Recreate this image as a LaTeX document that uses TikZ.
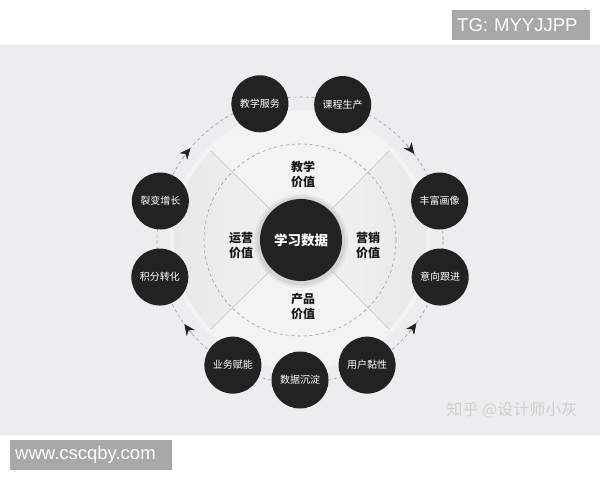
\documentclass[tikz,border=0pt]{standalone}
\usepackage{fontspec}
\setmainfont{Noto Sans CJK SC}
\newfontfamily\latinsans{Liberation Sans}
\usetikzlibrary{arrows.meta,calc}
\definecolor{panel}{HTML}{ECEDEE}
\definecolor{diskc}{HTML}{F3F3F3}
\definecolor{wedgec}{HTML}{E7E7E7}
\definecolor{nodefill}{HTML}{222222}
\definecolor{ringc}{HTML}{9A9A9A}
\definecolor{tagbox}{HTML}{A8A8A8}
\definecolor{edgec}{HTML}{C8C8C8}
\pgfdeclareradialshading{diskshade}{\pgfpoint{0bp}{0bp}}{color(0bp)=(diskc); color(40bp)=(diskc); color(50bp)=(panel)}
\begin{document}
\begin{tikzpicture}[x=1pt,y=1pt,
  ringnode/.style={circle, fill=nodefill, minimum size=57pt, inner sep=0pt, text=white, font=\fontsize{10}{12}\selectfont},
  hubnode/.style={circle, fill=nodefill, minimum size=82pt, inner sep=0pt, text=white, font=\bfseries\fontsize{13.5}{16}\selectfont},
  valuelabel/.style={align=center, text=black!90, font=\bfseries\fontsize{12}{15}\selectfont},
  dashring/.style={draw=ringc, line width=0.6pt, dash pattern=on 3pt off 3pt},
  flowtip/.style={draw=ringc, line width=0.6pt, -{Stealth[length=11pt,width=10pt,inset=3.5pt,color=nodefill]}},
  edgeline/.style={draw=edgec, line width=0.7pt},
  tag/.style={fill=tagbox, text=white, font=\latinsans\fontsize{18.5}{20}\selectfont, minimum height=30pt, inner ysep=0pt, inner xsep=5pt, align=left}
]
\useasboundingbox (0,0) rectangle (600,480);
\fill[white] (0,0) rectangle (600,480);
\fill[panel] (0,45) rectangle (600,435);

\coordinate (c) at (300,240);

% light disk with wedges
\shade[shading=diskshade] (c) circle[radius=130pt];
\shade[left color=wedgec, right color=diskc] (c) -- ++(135:126pt) arc[start angle=135, end angle=225, radius=126pt] -- cycle;
\shade[right color=wedgec, left color=diskc] (c) -- ++(45:126pt) arc[start angle=45, end angle=-45, radius=126pt] -- cycle;

% inner dashed circle
\draw[dashring] (c) circle[radius=96pt];

% outer dashed ring
\draw[dashring] (c) circle[radius=143pt];

% hub shadow
\fill[black, opacity=0.05] (301,239) circle[radius=47pt];
\fill[black, opacity=0.07] (301,239) circle[radius=44.5pt];
\node[hubnode] (hub) at (301,240) {学习数据};

% diagonal lines
\coordinate (d1) at ($(c)+(45:126pt)$);
\coordinate (d2) at ($(c)+(135:126pt)$);
\coordinate (d3) at ($(c)+(225:126pt)$);
\coordinate (d4) at ($(c)+(315:126pt)$);
\draw[edgeline] (hub.45) -- (d1);
\draw[edgeline] (hub.135) -- (d2);
\draw[edgeline] (hub.225) -- (d3);
\draw[edgeline] (hub.315) -- (d4);

% value labels
\node[valuelabel] (jx) at (303,305.5) {教学\\价值};
\node[valuelabel] (yy) at (241,235) {运营\\价值};
\node[valuelabel] (yx) at (368,235) {营销\\价值};
\node[valuelabel] (cp) at (303,173.5) {产品\\价值};

% arrow tips on ring
\draw[flowtip] ($(c)+(145:143pt)$) arc[start angle=145, end angle=140, radius=143pt];
\draw[flowtip] ($(c)+(42:143pt)$) arc[start angle=42, end angle=37, radius=143pt];
\draw[flowtip] ($(c)+(221:143pt)$) arc[start angle=221, end angle=216, radius=143pt];
\draw[flowtip] ($(c)+(-40.5:143pt)$) arc[start angle=-40.5, end angle=-35.5, radius=143pt];

% ring nodes
\node[ringnode] (n1) at ($(c)+(106.4:142pt)$) {教学服务};
\node[ringnode] (n2) at ($(c)+(72.5:142pt)$) {课程生产};
\node[ringnode] (n3) at ($(c)+(15.6:145pt)$) {丰富画像};
\node[ringnode] (n4) at ($(c)+(-14.8:145pt)$) {意向跟进};
\node[ringnode] (n5) at ($(c)+(298.2:142pt)$) {用户黏性};
\node[ringnode] (n6) at ($(c)+(270:140pt)$) {数据沉淀};
\node[ringnode] (n7) at ($(c)+(241.8:142pt)$) {业务赋能};
\node[ringnode] (n8) at ($(c)+(194.8:145pt)$) {积分转化};
\node[ringnode] (n9) at ($(c)+(164.4:145pt)$) {裂变增长};

% watermark
\node[text=white!62!gray, font=\fontsize{16}{18}\selectfont] (wm) at (512,70) {知乎 @设计师小灰};

% tags
\node[tag, anchor=west, text width=128pt] (tg) at (452,455) {TG: MYYJJPP};
\node[tag, anchor=west, text width=152pt] (www) at (10,25) {www.cscqby.com};
\end{tikzpicture}
\end{document}
